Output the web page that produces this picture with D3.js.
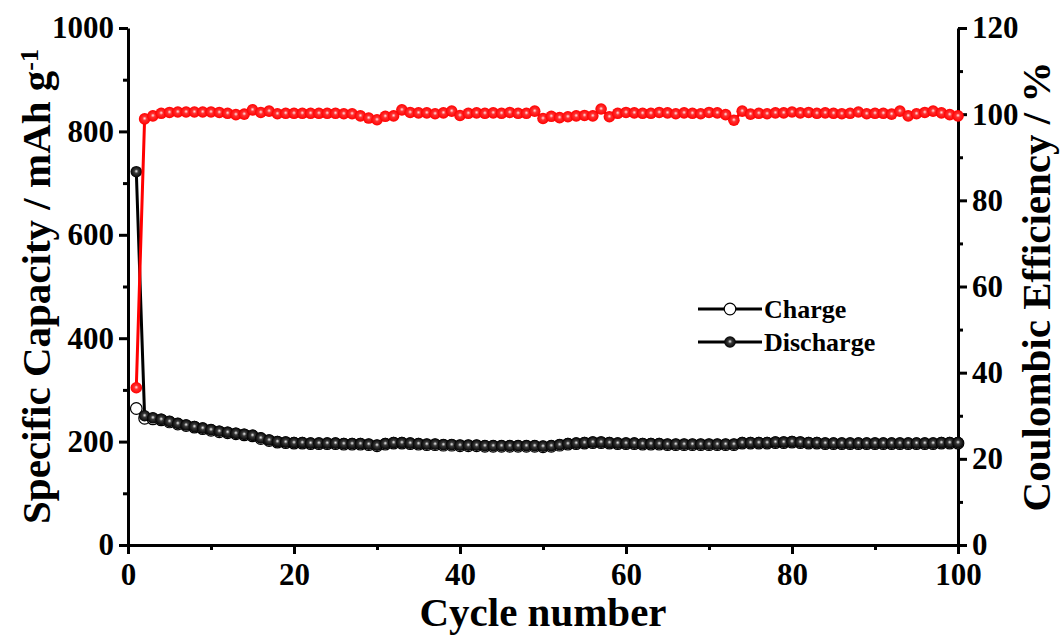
<!DOCTYPE html>
<html lang="en">
<head>
    <meta charset="UTF-8">
    <title>Cycling performance</title>
    <script src="https://d3js.org/d3.v7.min.js"></script>
    <style>
        body {
            margin: 0;
            background-color: #fff;
        }
        svg text {
            font-family: "Liberation Serif", "Times New Roman", serif;
            font-weight: bold;
            fill: #000;
        }
        .axis path, .axis line {
            stroke: #000;
            stroke-width: 3;
        }
        .axis text {
            font-size: 31px;
        }
        .axis-title {
            font-size: 41px;
        }
        .legend-text {
            font-size: 26px;
        }
    </style>
</head>
<body>
    <svg id="chart" width="1064" height="635"></svg>

    <script>
        // capacity in mAh/g, one value per cycle (1..100)
        const discharge = [
            722, 250, 246, 243, 239, 235, 232, 229, 226, 223,
            220, 218, 216, 214, 212, 207, 203, 200, 199, 198,
            198, 197, 197, 197, 197, 196, 196, 196, 195, 193,
            196, 198, 198, 197, 196, 195, 195, 194, 194, 193,
            193, 193, 192, 192, 192, 192, 192, 192, 192, 191,
            192, 194, 196, 197, 198, 199, 199, 198, 197, 197,
            197, 196, 196, 196, 195, 195, 195, 195, 195, 195,
            195, 195, 195, 198, 198, 198, 198, 199, 199, 200,
            199, 198, 198, 197, 197, 197, 197, 197, 197, 197,
            197, 197, 197, 197, 197, 197, 197, 198, 198, 198
        ];
        const charge = [
            264, 245, 244, 242, 238, 234, 231, 228, 225, 222,
            219, 217, 215, 213, 211, 206, 202, 199, 198, 197,
            197, 196, 196, 196, 196, 195, 195, 195, 194, 192,
            195, 197, 197, 196, 195, 194, 194, 193, 193, 192,
            192, 192, 191, 191, 191, 191, 191, 191, 191, 190,
            191, 193, 195, 196, 197, 198, 198, 197, 196, 196,
            196, 195, 195, 195, 194, 194, 194, 194, 194, 194,
            194, 194, 194, 197, 197, 197, 197, 198, 198, 199,
            198, 197, 197, 196, 196, 196, 196, 196, 196, 196,
            196, 196, 196, 196, 196, 196, 196, 197, 197, 197
        ];
        // coulombic efficiency in %
        const efficiency = [
            36.5, 98.9, 99.6, 100.2, 100.4, 100.5, 100.5, 100.5, 100.5, 100.5,
            100.4, 100.2, 99.9, 100.0, 101.0, 100.4, 100.7, 100.1, 100.2, 100.2,
            100.2, 100.2, 100.2, 100.2, 100.2, 100.1, 100.1, 99.6, 99.1, 98.7,
            99.5, 99.6, 101.0, 100.4, 100.3, 100.3, 100.1, 100.3, 100.7, 99.7,
            100.2, 100.3, 100.2, 100.3, 100.2, 100.4, 100.2, 100.2, 100.7, 99.0,
            99.5, 99.2, 99.4, 99.6, 99.7, 99.6, 101.2, 99.4, 100.2, 100.4,
            100.3, 100.2, 100.2, 100.4, 100.3, 100.1, 100.3, 100.2, 100.1, 100.4,
            100.3, 99.9, 98.6, 100.7, 100.0, 100.2, 100.1, 100.3, 100.3, 100.5,
            100.3, 100.4, 100.2, 100.3, 100.2, 100.1, 100.2, 100.5, 100.1, 100.2,
            100.2, 100.0, 100.7, 99.6, 100.1, 100.4, 100.7, 100.3, 99.9, 99.6
        ];

        const xTicks = [0, 20, 40, 60, 80, 100];
        const xMinor = [10, 30, 50, 70, 90];
        const yLeftTicks = [0, 200, 400, 600, 800, 1000];
        const yLeftMinor = [100, 300, 500, 700, 900];
        const yRightTicks = [0, 20, 40, 60, 80, 100, 120];
        const yRightMinor = [10, 30, 50, 70, 90, 110];

        const margin = { top: 28, right: 106, bottom: 90, left: 128 };
        const width = 1064 - margin.left - margin.right;
        const height = 635 - margin.top - margin.bottom;

        const root = d3.select("#chart");
        const defs = root.append("defs");

        function ballGradient(id, hi, mid, edge) {
            const g = defs.append("radialGradient")
                .attr("id", id)
                .attr("cx", "50%").attr("cy", "50%").attr("r", "50%")
                .attr("fx", "50%").attr("fy", "45%");
            g.append("stop").attr("offset", "0%").attr("stop-color", hi);
            g.append("stop").attr("offset", "35%").attr("stop-color", mid);
            g.append("stop").attr("offset", "100%").attr("stop-color", edge);
        }
        ballGradient("ballRed", "#ffe8e8", "#ff3030", "#ff0000");
        ballGradient("ballBlack", "#f0f0f0", "#3a3a3a", "#000");

        const svg = root.append("g")
            .attr("transform", `translate(${margin.left}, ${margin.top})`);

        const x = d3.scaleLinear().domain([0, 100]).range([0, width]);
        const y = d3.scaleLinear().domain([0, 1000]).range([height, 0]);
        const y2 = d3.scaleLinear().domain([0, 120]).range([height, 0]);

        // axes
        svg.append("g").attr("class", "axis")
            .attr("transform", `translate(0, ${height})`)
            .call(d3.axisBottom(x).tickValues(xTicks).tickSize(9).tickSizeOuter(0).tickPadding(9));
        svg.append("g").attr("class", "axis")
            .attr("transform", `translate(0, ${height})`)
            .call(d3.axisBottom(x).tickValues(xMinor).tickSize(5).tickSizeOuter(0).tickFormat(""))
            .select(".domain").remove();

        svg.append("g").attr("class", "axis")
            .call(d3.axisLeft(y).tickValues(yLeftTicks).tickFormat(d3.format("d"))
                .tickSize(9).tickSizeOuter(0).tickPadding(5));
        svg.append("g").attr("class", "axis")
            .call(d3.axisLeft(y).tickValues(yLeftMinor).tickSize(5).tickFormat(""))
            .select(".domain").remove();

        svg.append("g").attr("class", "axis")
            .attr("transform", `translate(${width}, 0)`)
            .call(d3.axisRight(y2).tickValues(yRightTicks).tickSize(9).tickSizeOuter(0).tickPadding(5));
        svg.append("g").attr("class", "axis")
            .attr("transform", `translate(${width}, 0)`)
            .call(d3.axisRight(y2).tickValues(yRightMinor).tickSize(5).tickFormat(""))
            .select(".domain").remove();

        // series
        const capLine = d3.line().x((d, i) => x(i + 1)).y(d => y(d));
        const ceLine = d3.line().x((d, i) => x(i + 1)).y(d => y2(d));
        const r = 5.8;

        svg.append("path").datum(charge)
            .attr("d", capLine).attr("fill", "none")
            .attr("stroke", "#000").attr("stroke-width", 3);
        svg.selectAll(".charge").data(charge).enter().append("circle")
            .attr("class", "charge")
            .attr("cx", (d, i) => x(i + 1)).attr("cy", d => y(d)).attr("r", r)
            .attr("fill", "#fff").attr("stroke", "#000").attr("stroke-width", 1.2);

        svg.append("path").datum(discharge)
            .attr("d", capLine).attr("fill", "none")
            .attr("stroke", "#000").attr("stroke-width", 3);
        svg.selectAll(".discharge").data(discharge).enter().append("circle")
            .attr("class", "discharge")
            .attr("cx", (d, i) => x(i + 1)).attr("cy", d => y(d)).attr("r", r)
            .attr("fill", "url(#ballBlack)");

        svg.append("path").datum(efficiency)
            .attr("d", ceLine).attr("fill", "none")
            .attr("stroke", "#ff0000").attr("stroke-width", 3);
        svg.selectAll(".ce").data(efficiency).enter().append("circle")
            .attr("class", "ce")
            .attr("cx", (d, i) => x(i + 1)).attr("cy", d => y2(d)).attr("r", r)
            .attr("fill", "url(#ballRed)");

        // legend
        const legend = [
            { label: "Charge", fill: "#fff", stroke: "#000" },
            { label: "Discharge", fill: "url(#ballBlack)", stroke: "none" }
        ];
        const lg = root.append("g").attr("transform", "translate(698, 309)");
        legend.forEach((d, i) => {
            const row = lg.append("g").attr("transform", `translate(0, ${i * 33})`);
            row.append("line").attr("x1", 0).attr("x2", 64).attr("y1", 0).attr("y2", 0)
                .attr("stroke", "#000").attr("stroke-width", 3);
            row.append("circle").attr("cx", 32).attr("cy", 0).attr("r", r)
                .attr("fill", d.fill).attr("stroke", d.stroke).attr("stroke-width", 1.2);
            row.append("text").attr("class", "legend-text")
                .attr("x", 66).attr("y", 9).text(d.label);
        });

        // axis titles
        root.append("text").attr("class", "axis-title")
            .attr("x", margin.left + width / 2).attr("y", 626)
            .attr("text-anchor", "middle")
            .text("Cycle number");

        const yt = root.append("text").attr("class", "axis-title")
            .attr("transform", `translate(50, ${margin.top + height / 2}) rotate(-90)`)
            .attr("text-anchor", "middle");
        yt.append("tspan").text("Specific Capacity / mAh g");
        yt.append("tspan").attr("dy", "-0.45em").attr("font-size", "26px").text("-1");

        root.append("text").attr("class", "axis-title")
            .attr("transform", `translate(1050, ${margin.top + height / 2}) rotate(-90)`)
            .attr("text-anchor", "middle")
            .text("Coulombic Efficiency / %");
    </script>
</body>
</html>
